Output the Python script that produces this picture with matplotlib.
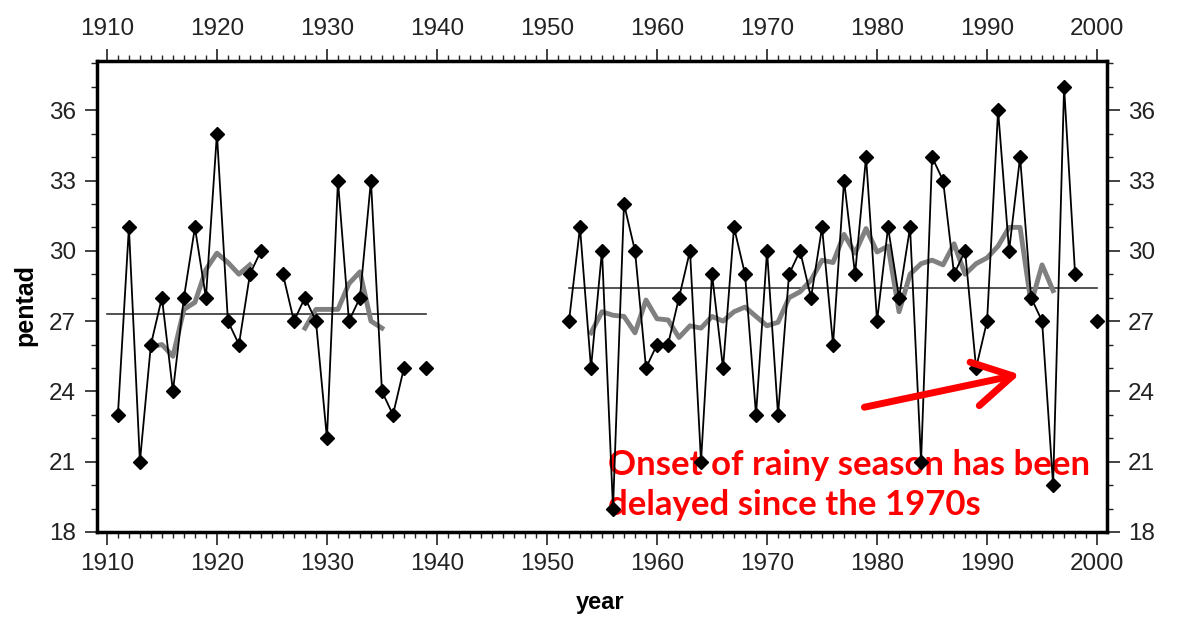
import numpy as np
import matplotlib.pyplot as plt
from matplotlib.ticker import MultipleLocator

nan = np.nan

# onset pentad, early record
years_a = list(range(1911, 1940))
pentad_a = [23, 31, 21, 26, 28, 24, 28, 31, 28, 35, 27, 26, 29, 30, nan,
            29, 27, 28, 27, 22, 33, 27, 28, 33, 24, 23, 25, nan, 25]

# onset pentad, later record
years_b = list(range(1952, 2001))
pentad_b = [27, 31, 25, 30, 19, 32, 30, 25, 26, 26, 28, 30, 21, 29, 25, 31,
            29, 23, 30, 23, 29, 30, 28, 31, 26, 33, 29, 34, 27, 31, 28, 31,
            21, 34, 33, 29, 30, 25, 27, 36, 30, 34, 28, 27, 20, 37, 29, nan, 27]

# smoothed curves (grey)
smooth_years_a = list(range(1914, 1936))
smooth_a = [25.9, 26.0, 25.5, 27.5, 27.8, 29.2, 29.9, 29.5, 29.0, 29.4,
            nan, nan, nan, nan,
            26.7, 27.5, 27.5, 27.5, 28.6, 29.1, 27.0, 26.7]
smooth_years_b = list(range(1954, 1997))
smooth_b = [26.5, 27.4, 27.25, 27.2, 26.5, 27.9, 27.1, 27.05, 26.3, 26.8,
            26.7, 27.2, 27.0, 27.4, 27.6, 27.2, 26.8, 26.95, 28.0, 28.25,
            28.75, 29.6, 29.5, 30.7, 29.9, 30.95, 29.95, 30.2, 27.4, 29.0,
            29.45, 29.6, 29.4, 30.3, 29.0, 29.45, 29.7, 30.2, 31.0, 31.0,
            27.75, 29.4, 28.3]

# period means
mean_a_span, mean_a = (1910, 1939), 27.3
mean_b_span, mean_b = (1952, 2000), 28.4

plt.rcParams['font.family'] = ['Liberation Sans', 'DejaVu Sans']

fig = plt.figure(figsize=(11.78, 6.17), dpi=100)
ax = fig.add_axes([97 / 1178, 85 / 617, 1010 / 1178, 471 / 617])

ax.plot(mean_a_span, [mean_a] * 2, color='#333333', lw=1.2, zorder=2)
ax.plot(mean_b_span, [mean_b] * 2, color='#333333', lw=1.2, zorder=2)

ax.plot(smooth_years_a, smooth_a, color='#808080', lw=3.5, zorder=3)
ax.plot(smooth_years_b, smooth_b, color='#808080', lw=3.5, zorder=3)

for yrs, vals in [(years_a, pentad_a), (years_b, pentad_b)]:
    ax.plot(yrs, vals, color='black', lw=1.3, marker='D', ms=7, zorder=4)

ax.text(1955.5, 20.0, "Onset of rainy season has been\ndelayed since the 1970s",
        color='red', fontsize=25, fontweight='bold', family=['Lato', 'DejaVu Sans'],
        va='center', ha='left', linespacing=1.3, zorder=1)
ax.annotate("", xy=(1993.2, 24.75), xytext=(1978.6, 23.3),
            arrowprops=dict(arrowstyle='->, head_length=1.4, head_width=0.8',
                            color='red', lw=5, mutation_scale=20), zorder=5)

ax.set_xlim(1909.1, 2000.9)
ax.set_ylim(18, 38.1)
ax.xaxis.set_major_locator(MultipleLocator(10))
ax.xaxis.set_minor_locator(MultipleLocator(1))
ax.yaxis.set_major_locator(MultipleLocator(3))
ax.yaxis.set_minor_locator(MultipleLocator(1))
ax.tick_params(which='both', direction='out', top=True, right=True,
               labeltop=True, labelright=True, labelsize=17.5, colors='#222222')
ax.tick_params(which='major', length=9, width=1.2, pad=6)
ax.tick_params(which='minor', length=4, width=1.0)
for s in ax.spines.values():
    s.set_linewidth(2.5)

fig.text(25 / 1178, 1 - 305 / 617, "pentad", rotation=90, fontsize=18,
         fontweight='bold', ha='center', va='center')
fig.text(600 / 1178, 1 - 603 / 617, "year", fontsize=17,
         fontweight='bold', ha='center', va='center')

fig.savefig("out.png", dpi=100)
